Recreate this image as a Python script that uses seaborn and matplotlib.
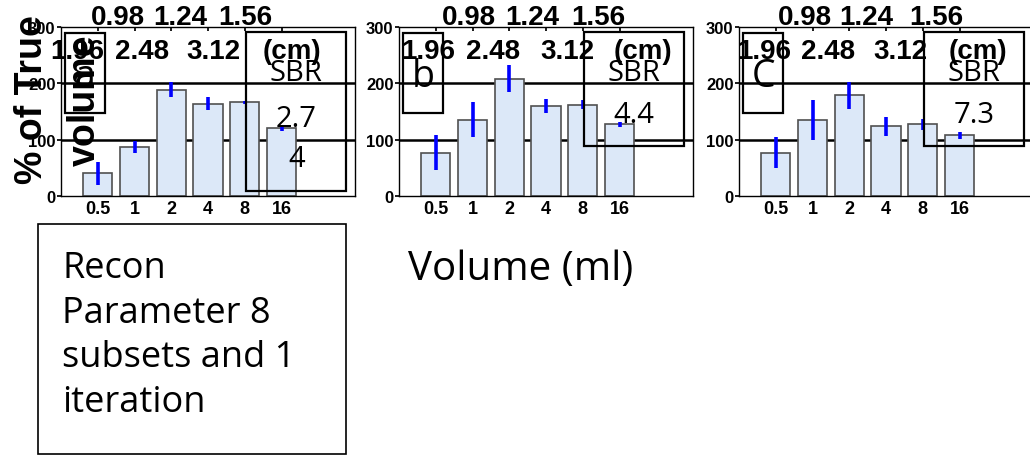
import matplotlib
matplotlib.use("Agg")
import matplotlib.pyplot as plt
from matplotlib.patches import Rectangle
import seaborn as sns
import numpy as np

# Sphere volumes (ml) and matching diameters (cm)
volumes = ["0.5", "1", "2", "4", "8", "16"]
diam_row1 = ["0.98", "1.24", "1.56"]
diam_row2 = ["1.96", "2.48", "3.12", "(cm)"]

# Measured volume as % of true volume, mean and spread, for three SBR levels
panel_tags = ["a", "b", "C"]
sbr_text = ["2.7\n4", "4.4", "7.3"]
mean_a = [40, 87, 189, 164, 166, 121]
err_a = [21, 11, 14, 12, 2, 5]
mean_b = [77, 135, 208, 160, 162, 127]
err_b = [31, 31, 24, 12, 8, 5]
mean_c = [77, 135, 179, 124, 127, 108]
err_c = [27, 36, 24, 17, 9, 6]
means = [mean_a, mean_b, mean_c]
errs = [err_a, err_b, err_c]

recon_note = "Recon\nParameter 8\nsubsets and 1\niteration"
x_title = "Volume (ml)"

sns.set_theme(style="white")
plt.rcParams["font.family"] = ["Liberation Sans", "DejaVu Sans"]
plt.rcParams.update({"text.color": "black", "axes.labelcolor": "black",
                     "xtick.color": "black", "ytick.color": "black"})

W, H = 1030, 456
fig = plt.figure(figsize=(W / 100, H / 100), dpi=100)

def px_axes(left, top, width, height):
    return fig.add_axes([left / W, 1 - (top + height) / H, width / W, height / H])

lefts = [61, 399, 739]
row1_x = [[0.194, 0.405, 0.626], [0.238, 0.452, 0.677], [0.224, 0.432, 0.67]]
row2_x = [[0.054, 0.276, 0.52, 0.786], [0.10, 0.32, 0.573, 0.83], [0.085, 0.303, 0.55, 0.813]]
sbr_bottom = [0.03, 0.296, 0.296]
sbr_val_y = [0.34, 0.485, 0.485]

bar_face = "#dce8f8"
text_font = ["Open Sans", "DejaVu Sans"]

for i in range(3):
    ax = px_axes(lefts[i], 28, 294, 169)
    sns.barplot(x=volumes, y=means[i], order=volumes, ax=ax, color=bar_face,
                saturation=1, edgecolor="#505050", linewidth=1.2, width=0.8)
    ax.errorbar(np.arange(len(volumes)), means[i], yerr=errs[i], fmt="none",
                ecolor="#0000ff", elinewidth=2.6, capsize=0, zorder=5)
    ax.set_xlim(-1, 7)
    ax.set_ylim(0, 300)
    ax.set_yticks([0, 100, 200, 300])
    ax.set_xlabel("")
    ax.set_ylabel("")
    ax.set_axisbelow(True)
    for yv in (100, 200):
        ax.axhline(yv, color="black", lw=1.8, zorder=0.5)
    for s in ax.spines.values():
        s.set_visible(True)
        s.set_color("black")
        s.set_linewidth(1.0)
    ax.tick_params(axis="x", bottom=False, top=True, direction="in", length=3,
                   color="black", labelcolor="black", labelsize=13, pad=3)
    ax.tick_params(axis="y", left=True, direction="out", length=3, color="black",
                   labelcolor="black", labelsize=12, pad=1)
    for lab in ax.get_xticklabels() + ax.get_yticklabels():
        lab.set_fontweight("bold")

    # diameter rows
    for txt, xx in zip(diam_row1, row1_x[i]):
        ax.text(xx, 1.059, txt, transform=ax.transAxes, ha="center", va="center",
                fontsize=20, fontweight="bold", clip_on=False)
    for txt, xx in zip(diam_row2, row2_x[i]):
        ax.text(xx, 0.858, txt, transform=ax.transAxes, ha="center", va="center",
                fontsize=20, fontweight="bold", clip_on=False, zorder=6)

    # panel tag box
    ax.add_patch(Rectangle((0.012, 0.491), 0.137, 0.473, transform=ax.transAxes,
                           fill=False, edgecolor="black", lw=1.6, zorder=6, clip_on=False))
    ax.text(0.082, 0.71, panel_tags[i], transform=ax.transAxes, ha="center",
            va="center", fontsize=27, family=text_font, zorder=6)

    # SBR box
    ax.add_patch(Rectangle((0.629, sbr_bottom[i]), 0.34, 0.97 - sbr_bottom[i],
                           transform=ax.transAxes, fill=False, edgecolor="black",
                           lw=1.6, zorder=6, clip_on=False))
    ax.text(0.80, 0.73, "SBR", transform=ax.transAxes, ha="center", va="center",
            fontsize=21, family=text_font, zorder=6)
    ax.text(0.80, sbr_val_y[i], sbr_text[i], transform=ax.transAxes, ha="center",
            va="center", fontsize=21, family=text_font, linespacing=1.5, zorder=6)

    if i == 0:
        ax.set_ylabel("% of True\nvolume", fontsize=27, fontweight="bold",
                      linespacing=1.6)
        ax.yaxis.label.set_va("center")
        ax.yaxis.set_label_coords(-0.01, 0.574)
        ax.yaxis.label.set_zorder(10)

# reconstruction note box
fig.patches.append(Rectangle((38 / W, 1 - 455 / H), 308 / W, 230 / H,
                             transform=fig.transFigure, fill=False,
                             edgecolor="black", lw=1.2))
fig.text(62 / W, 1 - 336 / H, recon_note, ha="left", va="center", fontsize=26,
         family=text_font, linespacing=1.32)
fig.text(521 / W, 1 - 270 / H, x_title, ha="center", va="center", fontsize=29,
         family=text_font)

fig.savefig("out.png", dpi=100)
